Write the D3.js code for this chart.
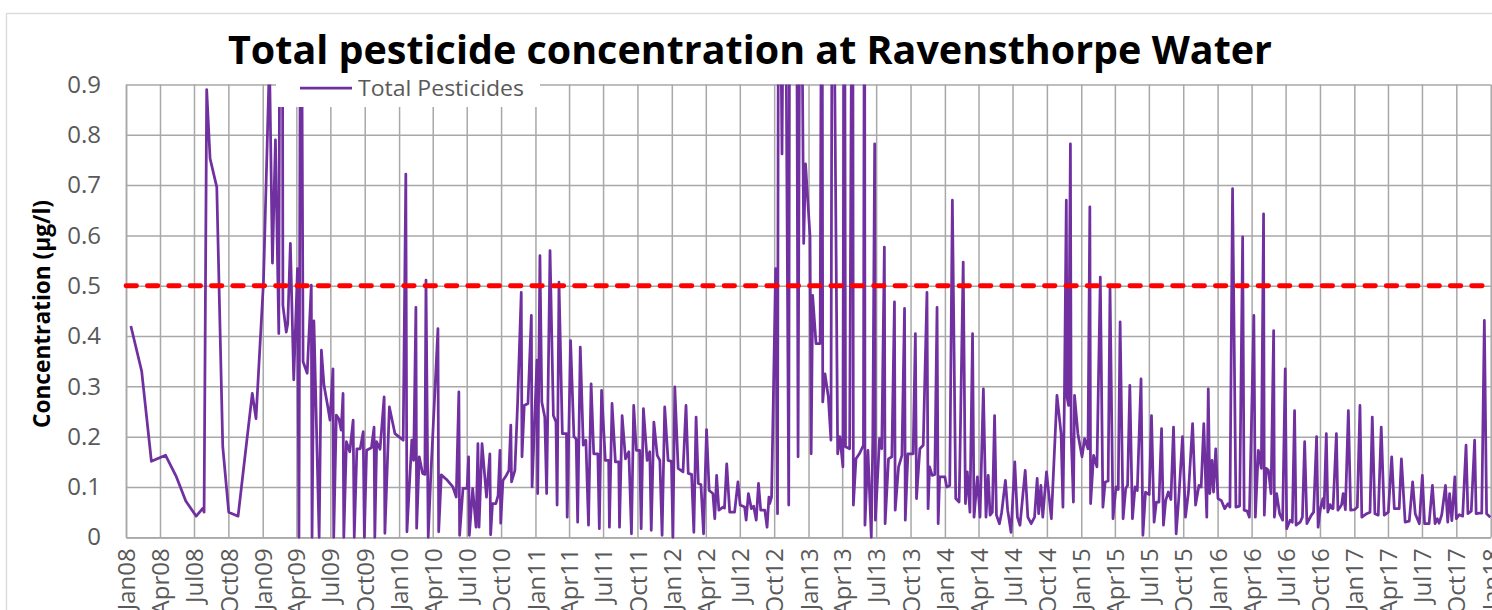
<!DOCTYPE html>
<html><head><meta charset="utf-8">
<script src="https://cdn.jsdelivr.net/npm/d3@7"></script>
<style>html,body{margin:0;padding:0;background:#fff;overflow:hidden}</style>
</head><body><svg id="chart" width="1492" height="610"></svg>
<script>
const titleText = "Total pesticide concentration at Ravensthorpe Water";
const yAxisTitle = "Concentration (µg/l)";
const seriesName = "Total Pesticides";
const yTickValues = [0, 0.1, 0.2, 0.3, 0.4, 0.5, 0.6, 0.7, 0.8, 0.9];
const limitValue = 0.5;

const sampleDates = [
"2008-01-14","2008-02-12","2008-03-09","2008-04-16","2008-05-15","2008-06-09","2008-07-07","2008-07-25","2008-07-28","2008-08-04","2008-08-13","2008-08-31","2008-09-16","2008-10-02","2008-10-27","2008-12-04","2008-12-14",
"2009-01-03","2009-01-19","2009-01-27","2009-02-04","2009-02-13","2009-02-17","2009-02-22","2009-02-24","2009-03-05","2009-03-09","2009-03-16","2009-03-25","2009-04-04","2009-04-08","2009-04-13","2009-04-19","2009-04-30","2009-05-11","2009-05-13","2009-05-18","2009-06-01","2009-06-07","2009-06-14","2009-06-25","2009-06-30","2009-07-08","2009-07-10","2009-07-17","2009-07-24","2009-07-30","2009-08-04","2009-08-06","2009-08-13","2009-08-22","2009-08-31","2009-09-03","2009-09-10","2009-09-19","2009-09-27","2009-09-30","2009-10-06","2009-10-19","2009-10-26","2009-10-28","2009-11-02","2009-11-11","2009-11-22","2009-11-24","2009-12-06","2009-12-21",
"2010-01-12","2010-01-19","2010-01-22","2010-02-04","2010-02-09","2010-02-15","2010-02-17","2010-02-24","2010-03-05","2010-03-11","2010-03-14","2010-03-20","2010-03-27","2010-04-15","2010-04-17","2010-04-24","2010-05-08","2010-05-25","2010-06-03","2010-06-10","2010-06-12","2010-06-21","2010-07-02","2010-07-06","2010-07-08","2010-07-17","2010-07-26","2010-07-31","2010-08-03","2010-08-11","2010-08-23","2010-09-01","2010-09-03","2010-09-08","2010-09-17","2010-09-23","2010-09-28","2010-09-30","2010-10-06","2010-10-15","2010-10-22","2010-10-27","2010-10-29","2010-11-07","2010-11-14","2010-11-24","2010-11-26","2010-12-02","2010-12-12","2010-12-21","2010-12-23",
"2011-01-05","2011-01-07","2011-01-13","2011-01-18","2011-01-26","2011-01-31","2011-02-09","2011-02-18","2011-02-25","2011-02-28","2011-03-05","2011-03-14","2011-03-25","2011-03-27","2011-04-05","2011-04-14","2011-04-20","2011-04-24","2011-05-01","2011-05-09","2011-05-16","2011-05-23","2011-05-30","2011-06-06","2011-06-17","2011-06-21","2011-06-27","2011-07-07","2011-07-16","2011-07-18","2011-07-25","2011-08-03","2011-08-12","2011-08-14","2011-08-21","2011-08-30","2011-09-08","2011-09-15","2011-09-21","2011-09-28","2011-10-07","2011-10-11","2011-10-17","2011-10-27","2011-11-03","2011-11-07","2011-11-14","2011-11-23","2011-11-30","2011-12-06","2011-12-13","2011-12-22","2011-12-31",
"2012-01-04","2012-01-09","2012-01-18","2012-01-31","2012-02-08","2012-02-14","2012-02-23","2012-02-29","2012-03-06","2012-03-12","2012-03-19","2012-03-26","2012-04-03","2012-04-10","2012-04-20","2012-04-25","2012-04-30","2012-05-06","2012-05-17","2012-05-21","2012-05-27","2012-06-04","2012-06-17","2012-06-26","2012-07-02","2012-07-14","2012-07-18","2012-07-24","2012-08-01","2012-08-07","2012-08-14","2012-08-20","2012-08-26","2012-09-06","2012-09-12","2012-09-17","2012-09-19","2012-09-24","2012-10-05","2012-10-10","2012-10-13","2012-10-22","2012-10-29","2012-11-09","2012-11-12","2012-11-29","2012-12-04","2012-12-10","2012-12-19","2012-12-24",
"2013-01-05","2013-01-08","2013-01-12","2013-01-21","2013-02-01","2013-02-06","2013-02-08","2013-02-14","2013-02-23","2013-03-02","2013-03-06","2013-03-20","2013-03-26","2013-04-03","2013-04-07","2013-04-10","2013-04-21","2013-04-29","2013-05-01","2013-05-08","2013-05-17","2013-05-28","2013-05-31","2013-06-01","2013-06-09","2013-06-18","2013-06-22","2013-06-27","2013-06-29","2013-07-10","2013-07-16","2013-07-23","2013-07-25","2013-08-03","2013-08-12","2013-08-19","2013-08-21","2013-08-30","2013-09-08","2013-09-15","2013-09-17","2013-09-24","2013-10-08","2013-10-14","2013-10-17","2013-10-26","2013-11-04","2013-11-14","2013-11-17","2013-11-21","2013-11-28","2013-12-05","2013-12-11","2013-12-14","2013-12-18",
"2014-01-01","2014-01-06","2014-01-14","2014-01-21","2014-01-30","2014-02-08","2014-02-10","2014-02-19","2014-02-25","2014-03-02","2014-03-09","2014-03-16","2014-03-20","2014-03-29","2014-04-05","2014-04-14","2014-04-21","2014-04-27","2014-05-02","2014-05-08","2014-05-14","2014-05-19","2014-05-27","2014-06-02","2014-06-12","2014-06-18","2014-06-27","2014-07-07","2014-07-14","2014-07-21","2014-08-04","2014-08-11","2014-08-20","2014-08-29","2014-09-05","2014-09-09","2014-09-15","2014-09-20","2014-09-30","2014-10-13","2014-10-28","2014-11-08","2014-11-13","2014-11-17","2014-11-22","2014-11-24","2014-11-28","2014-12-03","2014-12-05","2014-12-11","2014-12-14","2014-12-23",
"2015-01-03","2015-01-10","2015-01-19","2015-01-24","2015-01-26","2015-02-03","2015-02-12","2015-02-21","2015-02-28","2015-03-06","2015-03-14","2015-03-19","2015-03-27","2015-04-04","2015-04-10","2015-04-15","2015-04-23","2015-04-30","2015-05-05","2015-05-11","2015-05-18","2015-05-25","2015-05-31","2015-06-10","2015-06-15","2015-06-22","2015-07-02","2015-07-08","2015-07-15","2015-07-21","2015-07-28","2015-08-04","2015-08-09","2015-08-15","2015-08-22","2015-08-29","2015-09-05","2015-09-12","2015-09-19","2015-09-29","2015-10-07","2015-10-15","2015-10-26","2015-11-03","2015-11-12","2015-11-18","2015-11-25","2015-12-03","2015-12-07","2015-12-11","2015-12-17","2015-12-21","2015-12-27",
"2016-01-02","2016-01-11","2016-01-20","2016-01-29","2016-02-03","2016-02-10","2016-02-19","2016-02-29","2016-03-08","2016-03-12","2016-03-20","2016-03-26","2016-04-07","2016-04-11","2016-04-19","2016-04-27","2016-05-03","2016-05-05","2016-05-10","2016-05-16","2016-05-23","2016-05-30","2016-06-01","2016-06-07","2016-06-15","2016-06-23","2016-06-30","2016-07-04","2016-07-13","2016-07-19","2016-07-25","2016-07-29","2016-08-09","2016-08-15","2016-08-21","2016-08-27","2016-09-08","2016-09-14","2016-09-22","2016-09-26","2016-09-30","2016-10-03","2016-10-09","2016-10-12","2016-10-18","2016-10-22","2016-10-28","2016-11-01","2016-11-05","2016-11-14","2016-11-18","2016-11-24","2016-11-28","2016-12-02","2016-12-08","2016-12-16","2016-12-22",
"2017-01-02","2017-01-09","2017-01-16","2017-01-21","2017-02-03","2017-02-12","2017-02-18","2017-02-25","2017-03-06","2017-03-14","2017-03-22","2017-04-02","2017-04-11","2017-04-18","2017-05-01","2017-05-07","2017-05-17","2017-05-28","2017-06-06","2017-06-13","2017-06-24","2017-07-02","2017-07-08","2017-07-20","2017-07-29","2017-08-05","2017-08-11","2017-08-16","2017-08-23","2017-09-02","2017-09-08","2017-09-13","2017-09-19","2017-09-27","2017-10-01","2017-10-09","2017-10-18","2017-10-27","2017-11-01","2017-11-10","2017-11-19","2017-11-23","2017-12-02","2017-12-08","2017-12-15","2017-12-21","2017-12-31"
];

const totalPesticides = [
0.42,0.33,0.151,0.163,0.12,0.072,0.042,0.058,0.05,0.89,0.753,0.696,0.18,0.05,0.042,0.286,0.236,
0.508,0.95,0.545,0.79,0.405,1.5,1.5,0.461,0.408,0.425,0.584,0.313,0.534,0.0,1.5,0.349,0.326,0.501,0.0,0.43,0.0,0.372,0.302,0.256,0.233,0.335,0.0,0.243,0.235,0.213,0.286,0.0,0.19,0.17,0.233,0.0,0.176,0.176,0.21,0.0,0.173,0.178,0.219,0.0,0.19,0.175,0.279,0.008,0.259,0.206,
0.193,0.722,0.011,0.193,0.153,0.457,0.018,0.16,0.127,0.125,0.511,0.0,0.124,0.415,0.011,0.124,0.115,0.1,0.08,0.289,0.004,0.097,0.097,0.16,0.004,0.097,0.02,0.186,0.02,0.186,0.08,0.166,0.005,0.067,0.067,0.083,0.173,0.028,0.113,0.123,0.133,0.223,0.11,0.133,0.262,0.487,0.16,0.262,0.266,0.441,0.1,
0.352,0.087,0.56,0.269,0.239,0.087,0.57,0.242,0.229,0.064,0.507,0.206,0.206,0.04,0.391,0.2,0.195,0.03,0.378,0.183,0.193,0.024,0.305,0.166,0.166,0.017,0.292,0.153,0.153,0.02,0.266,0.15,0.15,0.02,0.242,0.156,0.17,0.007,0.262,0.173,0.173,0.017,0.256,0.153,0.17,0.014,0.229,0.163,0.153,0.004,0.259,0.153,0.151,
0.0,0.299,0.137,0.13,0.262,0.127,0.125,0.01,0.239,0.107,0.105,0.007,0.214,0.093,0.087,0.037,0.123,0.054,0.06,0.058,0.146,0.05,0.05,0.11,0.064,0.06,0.034,0.087,0.057,0.062,0.034,0.107,0.054,0.054,0.02,0.08,0.067,0.08,0.534,0.047,1.5,0.762,1.5,0.064,1.5,1.5,0.16,1.5,0.584,0.742,
0.597,0.166,0.481,0.385,0.385,1.5,0.269,0.325,0.279,0.193,1.5,0.166,0.2,0.14,1.5,0.18,0.176,1.5,0.064,0.156,0.166,0.183,1.5,0.024,0.173,0.0,0.196,0.782,0.034,0.196,0.176,0.577,0.027,0.156,0.16,0.468,0.054,0.14,0.163,0.455,0.034,0.166,0.166,0.405,0.077,0.176,0.183,0.487,0.057,0.14,0.123,0.125,0.457,0.027,0.12,
0.12,0.1,0.103,0.67,0.077,0.07,0.143,0.547,0.067,0.13,0.05,0.405,0.04,0.12,0.04,0.295,0.04,0.123,0.044,0.05,0.242,0.044,0.027,0.05,0.113,0.054,0.01,0.15,0.04,0.024,0.133,0.04,0.027,0.04,0.117,0.047,0.103,0.04,0.13,0.037,0.282,0.206,0.06,0.282,0.67,0.279,0.262,0.782,0.206,0.07,0.282,0.206,
0.16,0.196,0.176,0.657,0.067,0.163,0.14,0.517,0.06,0.11,0.112,0.494,0.037,0.1,0.095,0.428,0.037,0.097,0.103,0.302,0.037,0.1,0.093,0.315,0.004,0.09,0.085,0.242,0.03,0.07,0.07,0.216,0.024,0.073,0.09,0.075,0.219,0.007,0.077,0.2,0.04,0.09,0.226,0.064,0.103,0.1,0.226,0.04,0.295,0.087,0.153,0.09,0.176,
0.077,0.073,0.057,0.067,0.06,0.693,0.06,0.062,0.597,0.054,0.052,0.04,0.441,0.04,0.173,0.137,0.643,0.044,0.137,0.133,0.087,0.411,0.04,0.087,0.047,0.034,0.335,0.017,0.034,0.03,0.252,0.024,0.03,0.04,0.19,0.027,0.044,0.05,0.2,0.02,0.045,0.06,0.077,0.058,0.206,0.05,0.065,0.058,0.057,0.206,0.054,0.06,0.065,0.087,0.055,0.252,0.054,
0.055,0.06,0.262,0.04,0.047,0.05,0.239,0.047,0.044,0.219,0.044,0.05,0.16,0.057,0.057,0.156,0.03,0.032,0.11,0.047,0.027,0.123,0.027,0.027,0.103,0.027,0.037,0.028,0.045,0.103,0.03,0.087,0.033,0.12,0.037,0.045,0.042,0.183,0.047,0.052,0.193,0.047,0.048,0.048,0.431,0.047,0.04
];

const svg = d3.select("#chart");
const font = "'Open Sans', sans-serif";
const parse = d3.timeParse("%Y-%m-%d");
const data = sampleDates.map((d, i) => ({ date: parse(d), value: totalPesticides[i] }));

const plot = { left: 126, right: 1490.7, top: 84.5, bottom: 537.3 };
const x = d3.scaleTime().domain([new Date(2008, 0, 1), new Date(2018, 0, 1)]).range([plot.left, plot.right]);
const y = d3.scaleLinear().domain([0, 0.9]).range([plot.bottom, plot.top]);

// chart frame
svg.append("rect").attr("x", 6.5).attr("y", 13.5).attr("width", 1520).attr("height", 640)
  .attr("fill", "#fff").attr("stroke", "#d9d9d9").attr("stroke-width", 1.3);

const gridColor = "#a8a8a8";

// y axis with horizontal gridlines
const yAxis = svg.append("g").attr("transform", `translate(${plot.left},0)`)
  .call(d3.axisLeft(y).tickValues(yTickValues).tickSize(-(plot.right - plot.left)).tickSizeOuter(0)
    .tickPadding(25).tickFormat(d => d === 0 ? "0" : d3.format(".1f")(d)));
yAxis.selectAll("line").attr("stroke", gridColor).attr("stroke-width", 1.5);
yAxis.select(".domain").attr("stroke", gridColor).attr("stroke-width", 1.5);
yAxis.selectAll("text").attr("fill", "#595959").style("font-family", font).style("font-size", "24px");

// x axis with vertical gridlines
const xTicks = d3.timeMonth.range(new Date(2008, 0, 1), new Date(2018, 0, 2), 3);
const xAxis = svg.append("g").attr("transform", `translate(0,${plot.bottom})`)
  .call(d3.axisBottom(x).tickValues(xTicks).tickSize(-(plot.bottom - plot.top)).tickSizeOuter(0)
    .tickFormat(d3.timeFormat("%b%y")));
xAxis.selectAll("line").attr("stroke", gridColor).attr("stroke-width", 1.5);
xAxis.select(".domain").attr("stroke", gridColor).attr("stroke-width", 1.8);
xAxis.selectAll("text").attr("fill", "#595959").style("font-family", font).style("font-size", "24px")
  .attr("transform", "rotate(-90)").attr("text-anchor", "end")
  .attr("x", -11).attr("y", 0).attr("dy", "0.36em");

// clip for series
svg.append("clipPath").attr("id", "plotclip").append("rect")
  .attr("x", plot.left).attr("y", plot.top).attr("width", plot.right - plot.left + 2)
  .attr("height", plot.bottom - plot.top + 3);

const line = d3.line().x(d => x(d.date)).y(d => y(d.value));
svg.append("path").datum(data).attr("clip-path", "url(#plotclip)")
  .attr("fill", "none").attr("stroke", "#7030A0").attr("stroke-width", 2.75)
  .attr("stroke-linejoin", "round").attr("d", line);

// limit line
svg.append("line").attr("x1", plot.left).attr("x2", plot.right)
  .attr("y1", y(limitValue)).attr("y2", y(limitValue))
  .attr("stroke", "#FF0000").attr("stroke-width", 4.8)
  .attr("stroke-dasharray", "10.5 10.86").attr("stroke-linecap", "round");

// legend
svg.append("rect").attr("x", 276).attr("y", 70).attr("width", 264).attr("height", 37).attr("fill", "#fff");
svg.append("line").attr("x1", 300).attr("x2", 352).attr("y1", 88).attr("y2", 88)
  .attr("stroke", "#7030A0").attr("stroke-width", 2.75);
svg.append("text").attr("x", 358).attr("y", 96).text(seriesName)
  .attr("fill", "#595959").style("font-family", font).style("font-size", "22px")
  .attr("textLength", 166).attr("lengthAdjust", "spacingAndGlyphs");

// title
svg.append("text").attr("x", 750).attr("y", 64).attr("text-anchor", "middle").text(titleText)
  .attr("fill", "#000").style("font-family", font).style("font-size", "40px").style("font-weight", "bold")
  .attr("textLength", 1044).attr("lengthAdjust", "spacingAndGlyphs");

// y axis title
svg.append("text").attr("transform", "translate(50,314) rotate(-90)").attr("text-anchor", "middle")
  .text(yAxisTitle).attr("fill", "#000").style("font-family", font).style("font-size", "23px")
  .style("font-weight", "bold").attr("textLength", 228).attr("lengthAdjust", "spacingAndGlyphs");
</script>
</body></html>
